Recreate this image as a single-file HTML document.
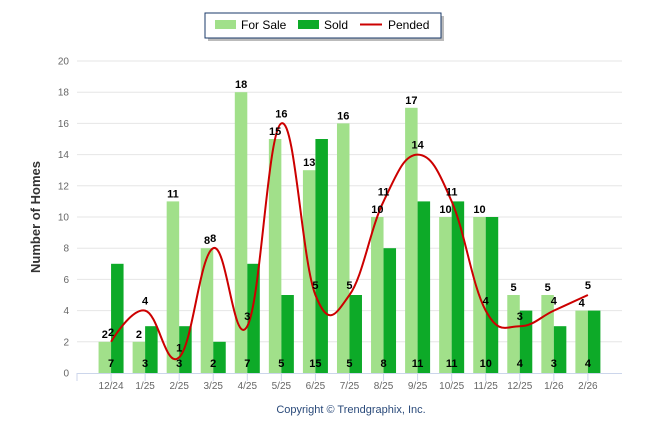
<!DOCTYPE html>
<html><head><meta charset="utf-8"><style>
html,body{margin:0;padding:0;background:#fff;}
svg{display:block;font-family:"Liberation Sans",Arial,sans-serif;}
</style></head><body>
<svg id="c" width="646" height="434" xmlns="http://www.w3.org/2000/svg">
<rect width="646" height="434" fill="#fff"/>
<g id="grid"></g>
<g id="bars"></g>
<path id="line" fill="none" stroke="#cc0000" stroke-width="2"/>
<g id="labels" font-size="11" font-weight="bold" fill="#000" text-anchor="middle"></g>
<g id="axes" font-size="10" fill="#666"></g>
<text x="40" y="217" transform="rotate(-90 40 217)" text-anchor="middle" font-size="13" font-weight="bold" fill="#333">Number of Homes</text>
<text x="351" y="413" text-anchor="middle" font-size="11" fill="#2a4a7a">Copyright © Trendgraphix, Inc.</text>
<rect x="208" y="16" width="236" height="25" fill="#bbb"/>
<rect x="205" y="13" width="236" height="25" fill="#fff" stroke="#1a3a6a" stroke-width="1"/>
<rect x="215" y="20" width="21" height="9" fill="#a1e08a"/>
<text x="241" y="29" font-size="12" fill="#000">For Sale</text>
<rect x="298" y="20" width="21" height="9" fill="#0daa28"/>
<text x="324" y="29" font-size="12" fill="#000">Sold</text>
<line x1="360" y1="24.5" x2="382" y2="24.5" stroke="#cc0000" stroke-width="2"/>
<text x="388" y="29" font-size="12" fill="#000">Pended</text>
</svg>
<script>
var fs=[2,2,11,8,18,15,13,16,10,17,10,10,5,5,4];
var sd=[7,3,3,2,7,5,15,5,8,11,11,10,4,3,4];
var pd=[2,4,1,8,3,16,5,5,11,14,11,4,3,4,5];
var cats=["12/24","1/25","2/25","3/25","4/25","5/25","6/25","7/25","8/25","9/25","10/25","11/25","12/25","1/26","2/26"];
var NS="http://www.w3.org/2000/svg";
function el(p,t,a,txt){var e=document.createElementNS(NS,t);for(var k in a)e.setAttribute(k,a[k]);if(txt!==undefined)e.textContent=txt;document.getElementById(p).appendChild(e);return e;}
var y0=373,u=15.6,x0=77,cw=34.06;
function Y(v){return y0-v*u;}
function X(i){return x0+cw*(i+1);}
for(var v=0;v<=20;v+=2){
 if(v>0)el("grid","line",{x1:x0,x2:622,y1:Y(v),y2:Y(v),stroke:"#e6e6e6","stroke-width":1});
 el("axes","text",{x:69,y:Y(v)+3.5,"text-anchor":"end"},v);
}
el("grid","line",{x1:x0,x2:622,y1:y0+0.5,y2:y0+0.5,stroke:"#ccd6eb","stroke-width":1});
el("grid","line",{x1:x0,x2:x0,y1:y0,y2:y0+8,stroke:"#ccd6eb","stroke-width":1});
for(var i=0;i<15;i++){
 var cx=X(i);
 el("grid","line",{x1:cx,x2:cx,y1:y0,y2:y0+8,stroke:"#ccd6eb","stroke-width":1});
 el("bars","rect",{x:cx-12.5,y:Y(fs[i]),width:12.5,height:fs[i]*u,fill:"#a1e08a"});
 el("bars","rect",{x:cx,y:Y(sd[i]),width:12.5,height:sd[i]*u,fill:"#0daa28"});
 el("labels","text",{x:cx-6.2,y:Y(fs[i])-4},fs[i]);
 el("labels","text",{x:cx,y:367},sd[i]);
 el("labels","text",{x:cx,y:Y(pd[i])-6},pd[i]);
 el("axes","text",{x:cx,y:389,"text-anchor":"middle"},cats[i]);
}
var pts=pd.map(function(v,i){return {x:X(i),y:Y(v)};});
var s=1.5,dn=2.5,d="M"+pts[0].x+" "+pts[0].y;
for(var i=0;i<pts.length;i++){
 var p=pts[i],l=pts[i-1],n=pts[i+1];
 if(l&&n){
  var lx=(s*p.x+l.x)/dn,ly=(s*p.y+l.y)/dn,rx=(s*p.x+n.x)/dn,ry=(s*p.y+n.y)/dn;
  var c=((ry-ly)*(rx-p.x))/(rx-lx)+p.y-ry;ly+=c;ry+=c;
  p.lx=lx;p.ly=ly;p.rx=rx;p.ry=ry;
 }else{p.lx=p.x;p.ly=p.y;p.rx=p.x;p.ry=p.y;}
}
for(var i=1;i<pts.length;i++){var a=pts[i-1],b=pts[i];d+=" C"+a.rx+" "+a.ry+" "+b.lx+" "+b.ly+" "+b.x+" "+b.y;}
document.getElementById("line").setAttribute("d",d);
</script>
</body></html>
